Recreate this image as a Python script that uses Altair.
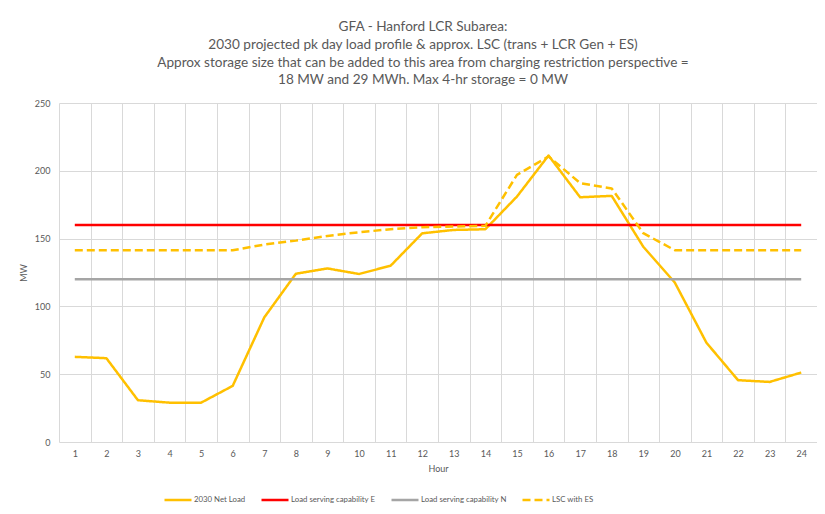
import altair as alt
import pandas as pd

hours = list(range(1, 25))
net_load = [62.8, 61.8, 30.8, 29.0, 29.0, 41.4, 91.9, 124.1, 128.0, 123.9, 130.0, 153.9,
            156.4, 156.9, 181.0, 211.3, 180.5, 181.5, 144.0, 117.5, 73.2, 45.6, 44.3, 51.2]
lsc_e = [160, 160, 160, 160, 160, 160, 160, 160, 160, 160, 160, 160,
         160, 160, 160, 160, 160, 160, 160, 160, 160, 160, 160, 160]
lsc_n = [120, 120, 120, 120, 120, 120, 120, 120, 120, 120, 120, 120,
         120, 120, 120, 120, 120, 120, 120, 120, 120, 120, 120, 120]
lsc_es = [141.4, 141.4, 141.4, 141.4, 141.4, 141.4, 145.6, 148.5, 152.0, 154.7, 156.9, 158.4,
          158.9, 159.4, 197.0, 210.6, 190.9, 187.0, 154.0, 141.4, 141.4, 141.4, 141.4, 141.4]

series_names = ["2030 Net Load", "Load serving capability E", "Load serving capability N", "LSC with ES"]
series_values = [net_load, lsc_e, lsc_n, lsc_es]
colors = ["#FFC000", "#FF0000", "#A5A5A5", "#FFC000"]
dashes = [[1, 0], [1, 0], [1, 0], [8, 4]]

title_lines = [
    "GFA - Hanford LCR Subarea:",
    "2030 projected pk day load profile & approx. LSC (trans + LCR Gen + ES)",
    "Approx storage size that can be added to this area from charging restriction perspective =",
    "18 MW and 29 MWh. Max 4-hr storage = 0 MW",
]
y_ticks = [0, 50, 100, 150, 200, 250]

rows = []
for k, (name, vals) in enumerate(zip(series_names, series_values)):
    for h, v in zip(hours, vals):
        rows.append({"hour": h, "value": v, "series": name, "order": k})
df = pd.DataFrame(rows)

FONT = "Lato"
GREY_TXT = "#595959"
GRID = "#d9d9d9"

legend_kw = dict(
    orient="none", legendX=104, legendY=382, direction="horizontal", title=None,
    symbolType="stroke", symbolSize=729, symbolStrokeWidth=2.5,
    labelFontSize=7.8, labelColor=GREY_TXT, labelFont=FONT,
    columnPadding=10, labelOffset=1,
)

chart = alt.Chart(df).mark_line(strokeWidth=2.5, strokeJoin="round").encode(
    x=alt.X("hour:O",
            scale=alt.Scale(type="band", paddingInner=0, paddingOuter=0),
            axis=alt.Axis(tickBand="extent", grid=True, gridColor=GRID, domain=False,
                          ticks=False, labelAngle=0, labelFontSize=9, labelColor=GREY_TXT,
                          labelPadding=7, title="Hour", titleFontSize=9,
                          titleFontWeight="normal", titleColor=GREY_TXT, titlePadding=6)),
    y=alt.Y("value:Q",
            scale=alt.Scale(domain=[0, 250], nice=False),
            axis=alt.Axis(values=y_ticks, grid=True, gridColor=GRID, domain=False,
                          ticks=False, labelFontSize=9, labelColor=GREY_TXT, labelPadding=9,
                          title="MW", titleFontSize=9, titleFontWeight="normal",
                          titleColor=GREY_TXT, titlePadding=6)),
    color=alt.Color("series:N", scale=alt.Scale(domain=series_names, range=colors),
                    legend=alt.Legend(**legend_kw)),
    strokeDash=alt.StrokeDash("series:N", scale=alt.Scale(domain=series_names, range=dashes),
                              legend=alt.Legend(**legend_kw)),
    order=alt.Order("order:Q"),
).properties(
    width=758,
    height=339,
    autosize=alt.AutoSizeParams(type="none"),
    padding={"left": 51, "top": 95, "right": 0, "bottom": 64},
    title=alt.TitleParams(text=title_lines, fontSize=13.6, font=FONT, fontWeight="normal",
                          color=GREY_TXT, lineHeight=17.7, anchor="middle", dx=-15, offset=12),
).configure_view(stroke=None).configure_axis(labelFont=FONT, titleFont=FONT)

chart.save("out.html", embed_options={"renderer": "svg", "actions": False})
